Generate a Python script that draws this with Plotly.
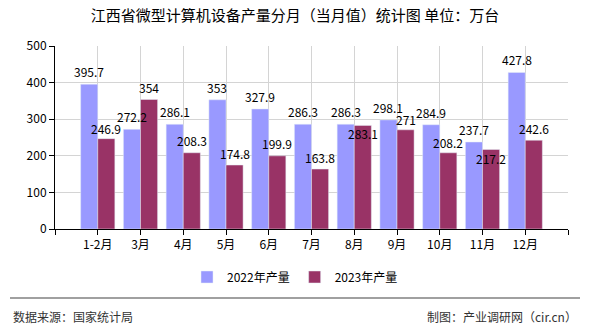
import plotly.graph_objects as go

categories = ["1-2月", "3月", "4月", "5月", "6月", "7月", "8月", "9月", "10月", "11月", "12月"]
values_2022 = [395.7, 272.2, 286.1, 353, 327.9, 286.3, 286.3, 298.1, 284.9, 237.7, 427.8]
values_2023 = [246.9, 354, 208.3, 174.8, 199.9, 163.8, 283.1, 271, 208.2, 217.2, 242.6]
y_ticks = [0, 100, 200, 300, 400, 500]

# label pixel offsets (style only): 2023 labels that would collide are pushed into the bar
shift_2022 = [12.5] * len(categories)
shift_2023 = [10, 12, 12.5, 12, 12.5, 12, -8.5, 10, 10, -8.5, 12]

FONT = "Noto Sans CJK SC"
xpos = list(range(len(categories)))

fig = go.Figure()
fig.add_trace(go.Bar(x=xpos, y=values_2022, name="2022年产量", marker_color="#9999FF"))
fig.add_trace(go.Bar(x=xpos, y=values_2023, name="2023年产量", marker_color="#993366"))

W, H = 590, 330
ml, mr, mt, mb = 55, 22, 46, 101
ph = H - mt - mb

def py(Y):
    return (H - mb - Y) / ph

def px(X):
    return (X - ml) / (W - ml - mr)

def fmt(v):
    return str(int(v)) if float(v).is_integer() else str(v)

annotations = []
for i, (v, s) in enumerate(zip(values_2022, shift_2022)):
    annotations.append(dict(x=i - 0.2, y=v, xref="x", yref="y", text=fmt(v), showarrow=False,
                            xanchor="center", yanchor="middle", yshift=s,
                            font=dict(family=FONT, size=12, color="#000000")))
for i, (v, s) in enumerate(zip(values_2023, shift_2023)):
    annotations.append(dict(x=i + 0.2, y=v, xref="x", yref="y", text=fmt(v), showarrow=False,
                            xanchor="center", yanchor="middle", yshift=s,
                            font=dict(family=FONT, size=12, color="#000000")))
annotations += [
    dict(text="数据来源：国家统计局", xref="paper", yref="paper",
         x=px(11), y=py(316), xanchor="left", yanchor="middle", showarrow=False,
         font=dict(family=FONT, size=12, color="#333333")),
    dict(text="制图：产业调研网（cir.cn）", xref="paper", yref="paper",
         x=px(579), y=py(316), xanchor="right", yanchor="middle", showarrow=False,
         font=dict(family=FONT, size=12, color="#333333")),
]

fig.update_layout(
    width=W, height=H,
    margin=dict(l=ml, r=mr, t=mt, b=mb),
    paper_bgcolor="white", plot_bgcolor="white",
    barmode="group", bargap=0.2, bargroupgap=0,
    font=dict(family=FONT, size=12, color="#000000"),
    title=dict(text="江西省微型计算机设备产量分月（当月值）统计图 单位：万台",
               x=0.5, xanchor="center", y=1 - 16 / H, yanchor="middle",
               font=dict(family=FONT, size=15, color="#000000")),
    showlegend=True,
    legend=dict(orientation="h", x=px(295), xanchor="center", y=py(277), yanchor="middle",
                font=dict(family=FONT, size=12, color="#000000"),
                itemwidth=30, traceorder="normal"),
    xaxis=dict(
        range=[-1, len(categories)],
        tickvals=[-1] + xpos + [len(categories)],
        ticktext=[""] + categories + [""],
        showgrid=True, gridcolor="#d4d4d4", gridwidth=1,
        showline=True, linecolor="#000000", linewidth=1,
        ticks="outside", ticklen=5, tickcolor="#000000",
        tickfont=dict(family=FONT, size=12, color="#000000"),
        zeroline=False,
    ),
    yaxis=dict(
        range=[0, 500], tickvals=y_ticks,
        showgrid=True, gridcolor="#d4d4d4", gridwidth=1,
        showline=True, linecolor="#000000", linewidth=1,
        ticks="outside", ticklen=5, tickcolor="#000000",
        tickfont=dict(family=FONT, size=12, color="#000000"),
        zeroline=False,
    ),
    shapes=[dict(type="line", xref="paper", yref="paper",
                 x0=px(10), x1=px(580), y0=py(298), y1=py(298),
                 line=dict(color="#808080", width=1.5))],
    annotations=annotations,
)

fig.write_html("out.html")
